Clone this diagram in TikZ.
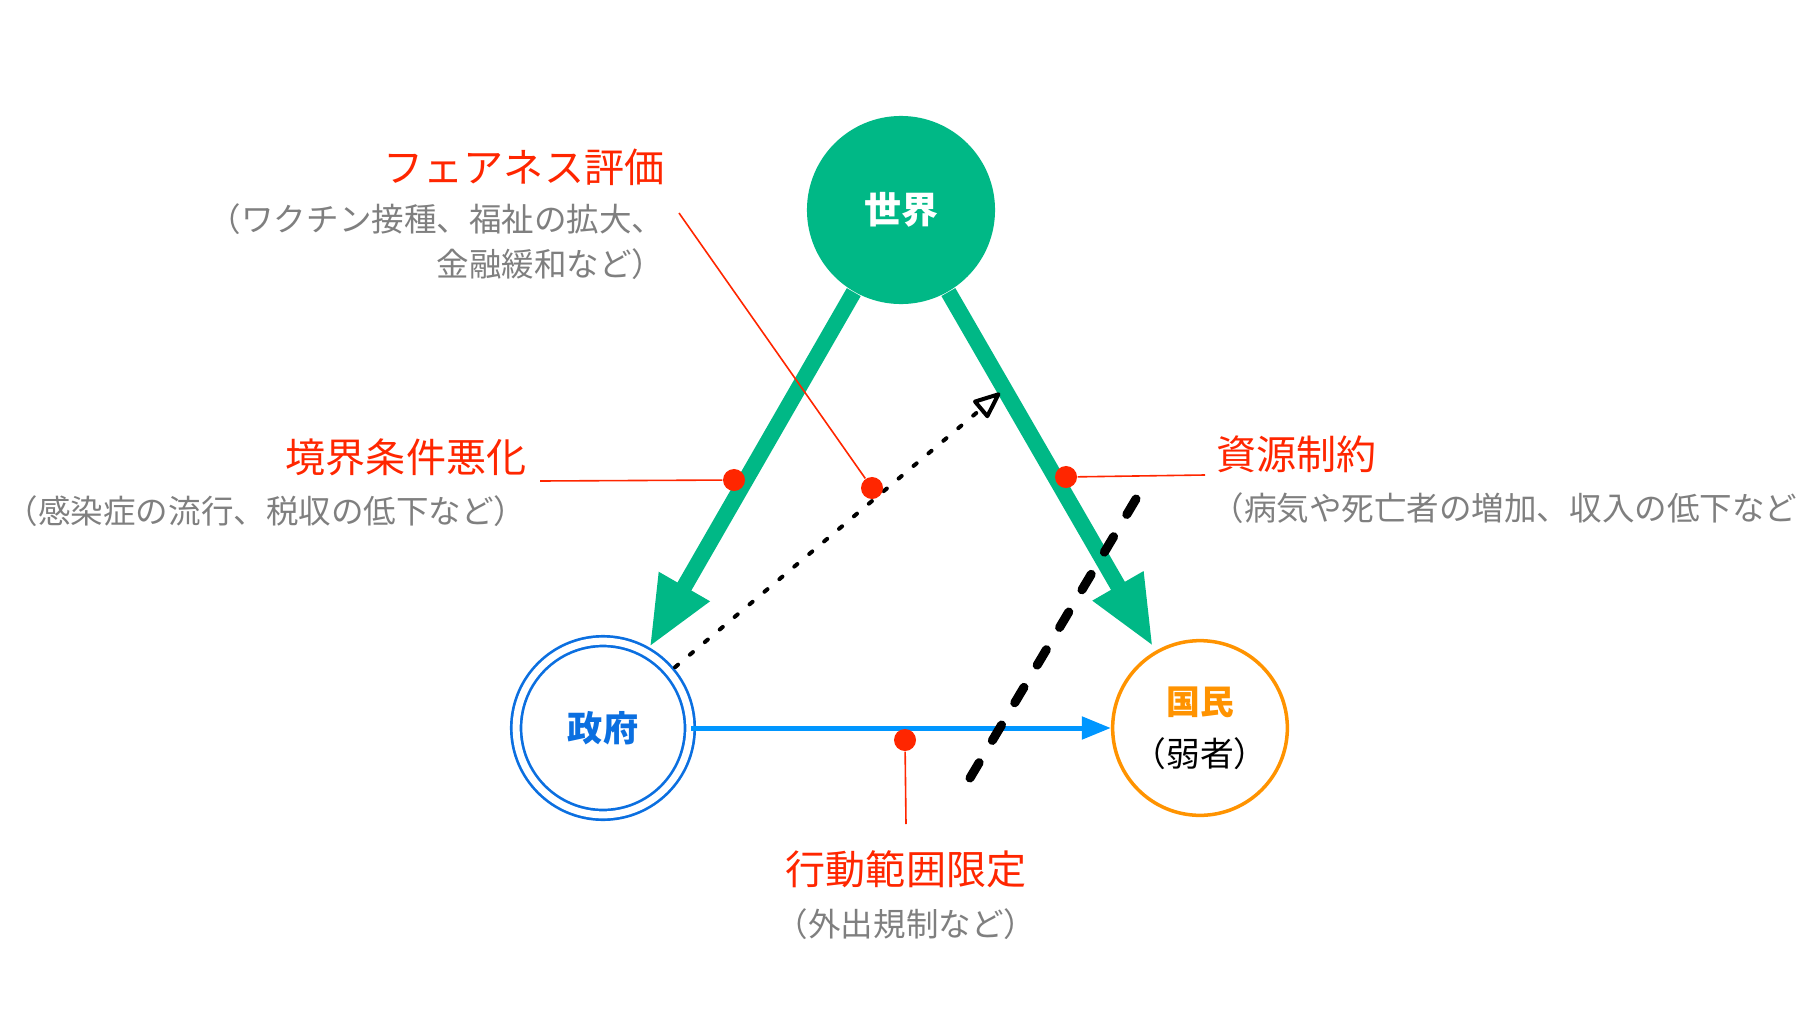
\documentclass[tikz,border=0pt]{standalone}
\usepackage{fontspec}
\setmainfont{Noto Sans CJK JP}
\usetikzlibrary{positioning,arrows.meta}

\definecolor{worldgreen}{HTML}{00B886}
\definecolor{govblue}{HTML}{0B6FE0}
\definecolor{flowblue}{HTML}{0096FF}
\definecolor{peopleorange}{HTML}{FF9300}
\definecolor{keyred}{HTML}{FF2600}
\definecolor{notegray}{HTML}{7F7F7F}

\begin{document}
\begin{tikzpicture}[x=0.01cm, y=-0.01cm,
  actor/.style = {circle, inner sep=0pt, align=center},
  keylabel/.style = {inner sep=0pt, text=keyred, font=\fontsize{11.4}{14}\selectfont},
  keynote/.style = {inner sep=0pt, text=notegray, font=\fontsize{9.25}{12.9}\selectfont},
  pressure/.style = {worldgreen, line width=0.16cm, shorten >=0.05cm,
    -{Triangle[length=0.7cm, width=0.54cm]}},
  reddot/.style = {circle, fill=keyred, inner sep=0pt, minimum size=0.22cm},
  leader/.style = {keyred, line width=0.016cm}]

  \useasboundingbox (0,0) rectangle (1799,1012);

  \node[actor, fill=worldgreen, minimum size=1.88cm, text=white,
    font=\bfseries\fontsize{10.5}{12}\selectfont] (world) at (901,210) {世界};
  \node[actor, draw=govblue, line width=0.027cm, double=white, double distance=0.07cm,
    minimum size=1.736cm, text=govblue,
    font=\bfseries\fontsize{10}{12}\selectfont] (gov) at (603,728) {政府};
  \node[actor, draw=peopleorange, line width=0.035cm, minimum size=1.746cm,
    font=\fontsize{9.6}{14.8}\selectfont] (people) at (1200,728)
    {\textcolor{peopleorange}{\bfseries 国民}\\（弱者）};

  \coordinate (fairtip) at (1000,393);
  \coordinate (cutA) at (1136,499);
  \coordinate (cutB) at (970,778);

  \draw[pressure] (world) -- (gov);
  \draw[pressure] (world) -- (people);
  \draw[flowblue, line width=0.05cm, -{Triangle[length=0.29cm, width=0.22cm]}] (gov) -- (people);
  \draw[line width=0.04cm, line cap=round, dash pattern=on 0.04cm off 0.155cm, shorten <=0.06cm,
    -{Triangle[open, round, length=0.3cm, width=0.24cm]}] (gov) -- (fairtip);
  \draw[line width=0.09cm, line cap=round, dash pattern=on 0.18cm off 0.258cm] (cutA) -- (cutB);

  \node[reddot] (bounddot) at (734,480) {};
  \node[reddot] (fairdot) at (872,488) {};
  \node[reddot] (resourcedot) at (1066,477) {};
  \node[reddot] (actiondot) at (905,740) {};
  \coordinate (boundend) at (540,481);
  \coordinate (fairend) at (679,213);
  \coordinate (resourceend) at (1205,475);
  \coordinate (actionend) at (906,824);
  \draw[leader] (bounddot) -- (boundend);
  \draw[leader] (fairdot) -- (fairend);
  \draw[leader] (resourcedot) -- (resourceend);
  \draw[leader] (actiondot) -- (actionend);

  \node[keylabel, anchor=east] (fairlabel) at (665,167) {フェアネス評価};
  \node[keynote, align=right, below left=0.17cm and 0cm of fairlabel.south east]
    (fairnote) {（ワクチン接種、福祉の拡大、\\金融緩和など）};
  \node[keylabel, anchor=east] (boundlabel) at (527,457) {境界条件悪化};
  \node[keynote, below left=0.19cm and 0cm of boundlabel.south east]
    (boundnote) {（感染症の流行、税収の低下など）};
  \node[keylabel, anchor=west] (resourcelabel) at (1216,454) {資源制約};
  \node[keynote, below right=0.19cm and -0.05cm of resourcelabel.south west]
    (resourcenote) {（病気や死亡者の増加、収入の低下など};
  \node[keylabel] (actionlabel) at (906,869) {行動範囲限定};
  \node[keynote, below=0.2cm of actionlabel] (actionnote) {（外出規制など）};
\end{tikzpicture}
\end{document}
